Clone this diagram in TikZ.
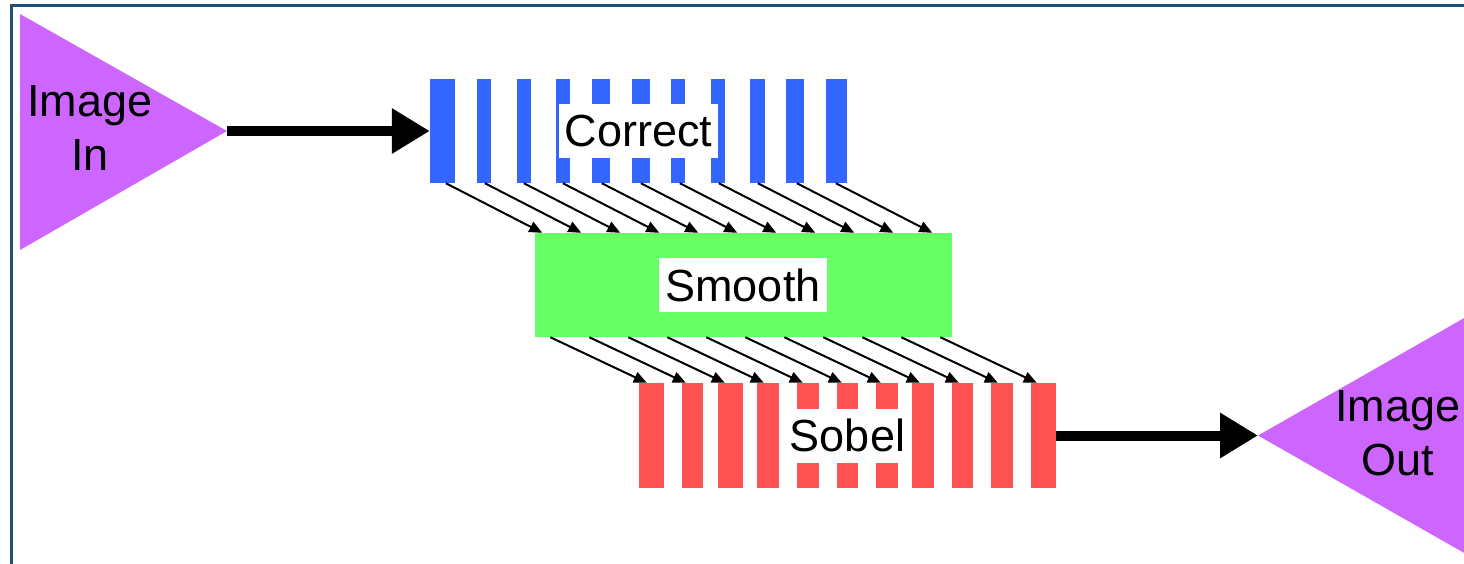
\documentclass[tikz,border=0pt]{standalone}
\usepackage{fontspec}
\setmainfont{Liberation Sans}
\usetikzlibrary{arrows.meta}
\definecolor{bluestripe}{HTML}{3366FF}
\definecolor{greenbox}{HTML}{66FF66}
\definecolor{redstripe}{HTML}{FF5252}
\definecolor{purp}{HTML}{CC66FF}
\definecolor{frameblue}{HTML}{1F4E79}
\begin{document}
\begin{tikzpicture}[x=1pt,y=-1pt,
  stage/.style={inner sep=0pt, draw=none, minimum width=417pt, minimum height=104pt},
  label/.style={fill=white, inner xsep=6pt, inner ysep=0pt, minimum height=54pt, font=\fontsize{45}{54}\selectfont},
  portlabel/.style={align=center, inner sep=0pt, font=\fontsize{45}{54}\selectfont},
  thickarrow/.style={line width=10pt, -{Triangle[length=38pt,width=43pt]}},
  thinarrow/.style={line width=2pt, -{Triangle[length=13pt,width=11pt]}}]
\useasboundingbox (0,0) rectangle (1464,563);
% frame
\draw[frameblue, line width=3pt] (11.5,565) -- (11.5,5.5) -- (1466,5.5);
% Image In
\coordinate (inapex) at (227,131);
\fill[purp] (20,14) -- (20,250) -- (inapex) -- cycle;
\node[portlabel] (intext) at (90,128.5) {Image\\In};
% Image Out
\coordinate (outapex) at (1258,435.5);
\fill[purp] (outapex) -- (1466,317) -- (1466,554) -- cycle;
\node[portlabel] (outtext) at (1398,433.5) {Image\\Out};
% Correct
\node[stage] (correct) at (638.5,131) {};
\foreach \a/\b in {430/455,477/491,517/531,556/570,592/610,632/650,671/685,711/725,750/765,786/804,826/847}
  \fill[bluestripe] (\a,79) rectangle (\b,183);
\node[label] (correctlabel) at (correct.center) {Correct};
% Smooth
\node[stage, fill=greenbox] (smooth) at (743,285) {};
\node[label] (smoothlabel) at (smooth.center) {Smooth};
% Sobel
\node[stage, minimum height=105pt] (sobel) at (847.5,435.5) {};
\foreach \a/\b in {639/664,682/703,718/743,757/779,797/819,837/858,876/898,912/934,952/973,991/1013,1031/1056}
  \fill[redstripe] (\a,383) rectangle (\b,488);
\node[label] (sobellabel) at (sobel.center) {Sobel};
% connectors
\draw[thickarrow] (inapex) -- (correct.west);
\draw[thickarrow] (sobel.east) -- (outapex);
\foreach \i in {0,...,10}{
  \draw[thinarrow] ([xshift=\i*39pt+16pt]correct.south west) -- ([xshift=\i*39pt+8pt]smooth.north west);
  \draw[thinarrow] ([xshift=\i*39pt+16pt]smooth.south west) -- ([xshift=\i*39pt+8pt]sobel.north west);
}
\end{tikzpicture}
\end{document}
